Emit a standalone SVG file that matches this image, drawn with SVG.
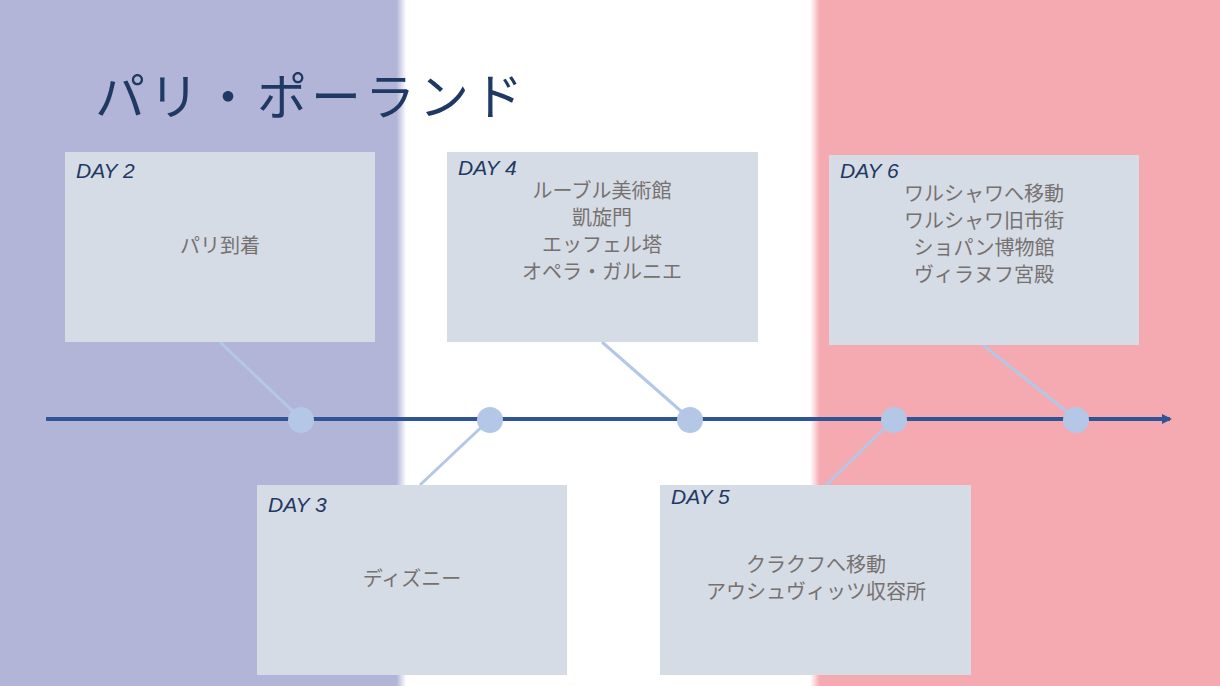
<svg xmlns="http://www.w3.org/2000/svg" width="1220" height="686" viewBox="0 0 1220 686">
<defs>
<style>
.box{fill:#d6dce5}
.day{font-family:"Liberation Sans","Noto Sans CJK JP",sans-serif;font-style:italic;font-size:21px;fill:#1f3864}
.t{font-family:"Noto Sans CJK JP",sans-serif;font-size:20px;fill:#767171;text-anchor:middle}
.c{stroke:#b4c7e7;stroke-width:3}
.dot{fill:#b4c7e7}
</style>
<marker id="ar" markerWidth="10" markerHeight="10" refX="8" refY="5" orient="auto" markerUnits="userSpaceOnUse" viewBox="0 0 10 10"><path d="M0,0 L10,5 L0,10 z" fill="#2f5597"/></marker>
<linearGradient id="bg" x1="0" x2="1" y1="0" y2="0">
<stop offset="0" stop-color="#b3b5d8"/><stop offset="0.325" stop-color="#b3b5d8"/><stop offset="0.333" stop-color="#ffffff"/>
<stop offset="0.664" stop-color="#ffffff"/><stop offset="0.672" stop-color="#f5a9b0"/><stop offset="1" stop-color="#f5a9b0"/>
</linearGradient>
</defs>
<rect width="1220" height="686" fill="url(#bg)"/>
<text x="95" y="115" font-family="Noto Sans CJK JP,sans-serif" font-size="50" fill="#1f3864" letter-spacing="4">パリ・ポーランド</text>
<g id="connectors">
<line class="c" x1="220" y1="342" x2="301" y2="419"/>
<line class="c" x1="490" y1="419" x2="420" y2="485"/>
<line class="c" x1="602" y1="342" x2="690" y2="419"/>
<line class="c" x1="894" y1="419" x2="826" y2="485"/>
<line class="c" x1="983" y1="345" x2="1076" y2="419"/>
<line x1="46" y1="419" x2="1170" y2="419" stroke="#2f5597" stroke-width="4" marker-end="url(#ar)"/>
<circle class="dot" cx="301" cy="420" r="13"/><circle class="dot" cx="490" cy="420" r="13"/><circle class="dot" cx="690" cy="420" r="13"/><circle class="dot" cx="894" cy="420" r="13"/><circle class="dot" cx="1076" cy="420" r="13"/>
</g>
<g id="day2"><rect class="box" x="65" y="152" width="310" height="190"/><text class="day" x="76" y="178">DAY 2</text><text class="t" x="220" y="253">パリ到着</text></g>
<g id="day4"><rect class="box" x="447" y="152" width="311" height="190"/><text class="day" x="458" y="175">DAY 4</text>
<text class="t" x="602" y="198">ルーブル美術館</text><text class="t" x="602" y="225">凱旋門</text><text class="t" x="602" y="252">エッフェル塔</text><text class="t" x="602" y="279">オペラ・ガルニエ</text></g>
<g id="day6"><rect class="box" x="829" y="155" width="310" height="190"/><text class="day" x="840" y="178">DAY 6</text>
<text class="t" x="984" y="201">ワルシャワへ移動</text><text class="t" x="984" y="228">ワルシャワ旧市街</text><text class="t" x="984" y="255">ショパン博物館</text><text class="t" x="984" y="282">ヴィラヌフ宮殿</text></g>
<g id="day3"><rect class="box" x="257" y="485" width="310" height="190"/><text class="day" x="268" y="512">DAY 3</text><text class="t" x="412" y="586">ディズニー</text></g>
<g id="day5"><rect class="box" x="660" y="485" width="311" height="190"/><text class="day" x="671" y="504">DAY 5</text>
<text class="t" x="816" y="572">クラクフへ移動</text><text class="t" x="816" y="599">アウシュヴィッツ収容所</text></g>
</svg>
